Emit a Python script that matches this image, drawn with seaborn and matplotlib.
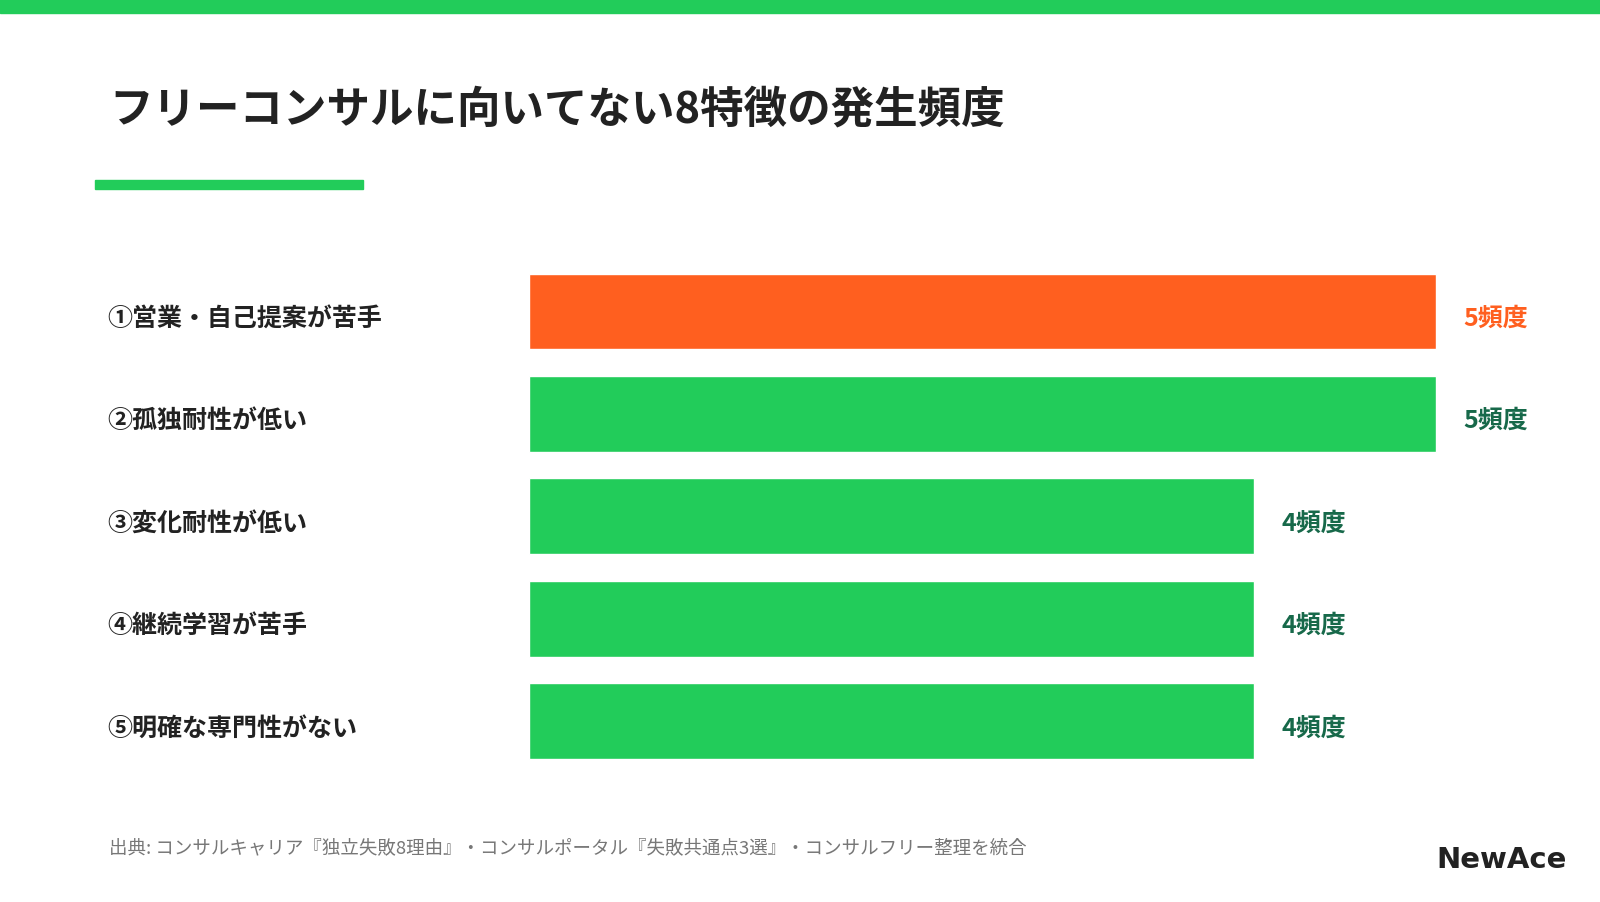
import matplotlib
matplotlib.use("Agg")
import matplotlib.pyplot as plt
import seaborn as sns
import pandas as pd

sns.set_theme(style="white")
plt.rcParams['font.family'] = ['Noto Sans CJK JP', 'DejaVu Sans']

categories = ["①営業・自己提案が苦手", "②孤独耐性が低い", "③変化耐性が低い", "④継続学習が苦手", "⑤明確な専門性がない"]
values = [5, 5, 4, 4, 4]
value_labels = ["5頻度", "5頻度", "4頻度", "4頻度", "4頻度"]

GREEN = "#22CC5A"
ORANGE = "#FF5F1F"
DARKGREEN = "#17694A"
colors = [ORANGE] + [GREEN] * 4

W, H = 1568, 885  # layout reference coordinates
fig = plt.figure(figsize=(16, 9.03), dpi=100)
fig.patch.set_facecolor("white")

fig.patches.append(plt.Rectangle((0, 1 - 14 / H), 1, 14 / H, transform=fig.transFigure, color=GREEN, zorder=0))
fig.patches.append(plt.Rectangle((93 / W, 1 - 186 / H), (356 - 93) / W, 9 / H, transform=fig.transFigure, color=GREEN))

fig.text(107 / W, 1 - 107 / H, "フリーコンサルに向いてない8特徴の発生頻度", fontsize=31.3, fontweight="bold",
         color="#222222", va="center", ha="left")

top, bottom = 256, 758
unit = 177.8
ax = fig.add_axes([518 / W, 1 - bottom / H, 6 * unit / W, (bottom - top) / H])
df = pd.DataFrame({"cat": categories, "val": values})
sns.barplot(data=df, x="val", y="cat", hue="cat", palette=colors, legend=False, ax=ax, width=0.74,
            saturation=1, orient="h")
ax.set_xlim(0, 6)
ax.set_ylim(4.5, -0.5)
ax.axis("off")

for i, (c, v, lab) in enumerate(zip(categories, values, value_labels)):
    y_fig = 1 - (top + (i + 0.5) * (bottom - top) / 5 + 6) / H
    fig.text(105 / W, y_fig, c, fontsize=18, fontweight="bold", color="#222222", va="center", ha="left")
    ax.text(v + 27 / unit, i + 0.06, lab, fontsize=18, fontweight="bold",
            color=ORANGE if i == 0 else DARKGREEN, va="center", ha="left")

fig.text(107 / W, 1 - 831 / H, "出典: コンサルキャリア『独立失敗8理由』・コンサルポータル『失敗共通点3選』・コンサルフリー整理を統合",
         fontsize=13.3, color="#777777", va="center", ha="left")
fig.text(1535 / W, 1 - 843 / H, "NewAce", fontsize=21, fontweight="bold", color="#222222",
         va="center", ha="right", family=["DejaVu Sans"])

fig.savefig("out.png", dpi=100)
